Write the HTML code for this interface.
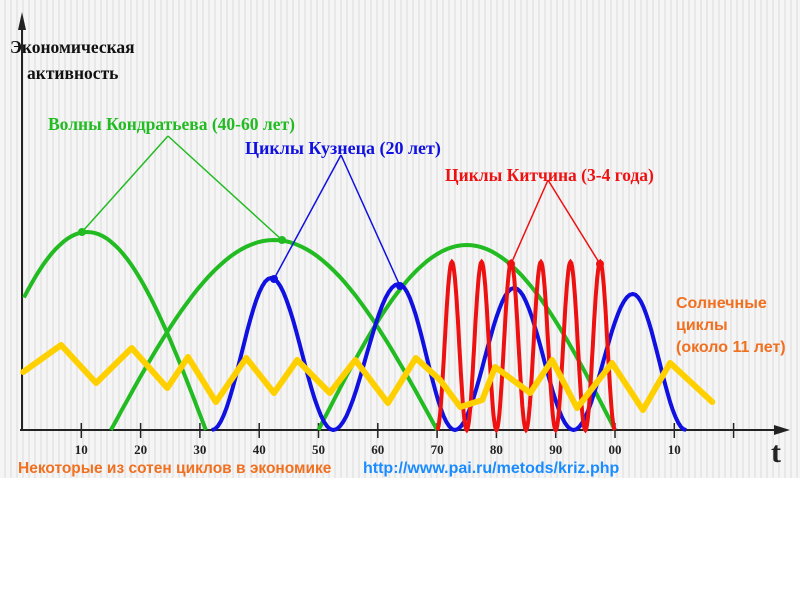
<!DOCTYPE html>
<html><head><meta charset="utf-8"><style>
html,body{margin:0;padding:0;background:#fff;}
#wrap{position:relative;width:800px;height:600px;overflow:hidden;}
#bg{position:absolute;left:0;top:0;width:800px;height:478px;background:repeating-linear-gradient(90deg,#f5f5f5 0px,#f5f5f5 4px,#e8e8e8 4px,#e8e8e8 6px);}
svg{position:absolute;left:0;top:0;}
.serif{font-family:"Liberation Serif",serif;font-weight:bold;}
.sans{font-family:"Liberation Sans",sans-serif;font-weight:bold;}
</style></head><body>
<div id="wrap">
<div id="bg"></div>
<svg id="chart" width="800" height="600">
<g id="axes"></g>
<g id="series"></g>
<g id="notes"></g>
</svg>
</div>
<script>
// ---- data ----
const tickLabels = ["10","20","30","40","50","60","70","80","90","00","10",""];
const tickYears = [10,20,30,40,50,60,70,80,90,100,110,120];
const kondratievStarts = [-9,15,50];
const kondratievEnds = [31,70,100];
const kondratievPeaks = [99,95,92.5];
const kuznetsT = [32,42,52.5,63.5,73,83,93,103,112];
const kuznetsV = [0,76,0,73,0,71,0,68,0];
const kitchinT = [70,72.5,75,77.5,80,82.5,85,87.5,90,92.5,95,97.5,100];
const kitchinV = [0,84,0,84,0,84,0,84,0,84,0,84,0];
const solarT = [0.2,6.6,12.5,18.5,24.5,28,32.7,37.8,42.5,46.4,51.9,56.2,61.7,66.4,70.5,73.9,77.6,79.8,85.7,89.4,93.6,99.5,104.7,109.3,116.4];
const solarV = [29,42.5,23.5,41,21,36.5,14,36,18.5,35,18.5,35,13.5,36,25,11.5,15,31.5,18.5,35,11,33.5,10,33.5,14];

// ---- axis functions ----
const X0=22, PX=5.93, Y0=430, PY=2;
const xs=t=>X0+t*PX;
const ys=v=>Y0-v*PY;
const NS="http://www.w3.org/2000/svg";
function mk(tag,attrs,parent){const e=document.createElementNS(NS,tag);for(const k in attrs)e.setAttribute(k,attrs[k]);parent.appendChild(e);return e;}
const axes=document.getElementById('axes'),series=document.getElementById('series'),notes=document.getElementById('notes');

let e=mk('line',{x1:22,y1:430,x2:22,y2:28,stroke:'#222','stroke-width':2},axes);

e=mk('polygon',{points:'22,12 18,30 26,30',fill:'#222'},axes);

e=mk('line',{x1:20,y1:430,x2:778,y2:430,stroke:'#222','stroke-width':2},axes);

e=mk('polygon',{points:'790,430 774,425 774,435',fill:'#222'},axes);

tickYears.forEach((t,i)=>{
  const x=xs(t);
  let l=mk('line',{x1:x,y1:423,x2:x,y2:438,stroke:'#222','stroke-width':1.5},axes);
  
  if(tickLabels[i]){let tx=mk('text',{x:x,y:454,'text-anchor':'middle','font-size':13,class:'serif',fill:'#222'},axes);tx.textContent=tickLabels[i];
  }
});

function pathFrom(pts){return pts.map((p,i)=>(i?'L':'M')+p[0].toFixed(1)+','+p[1].toFixed(1)).join(' ');}
function cosSeg(tArr,vArr){const pts=[];for(let i=0;i<tArr.length-1;i++){const a=tArr[i],b=tArr[i+1],va=vArr[i],vb=vArr[i+1];for(let k=0;k<=20;k++){const f=k/20,t=a+(b-a)*f,v=va+(vb-va)*(1-Math.cos(Math.PI*f))/2;pts.push([xs(t),ys(v)]);}}return pts;}

kondratievStarts.forEach((s,i)=>{
  const en=kondratievEnds[i],pk=kondratievPeaks[i],pts=[];
  for(let k=0;k<=60;k++){const t=s+(en-s)*k/60;if(t<0)continue;pts.push([xs(t),ys(pk*Math.sin(Math.PI*(t-s)/(en-s)))]);}
  let p=mk('path',{d:pathFrom(pts),fill:'none',stroke:'#22bb22','stroke-width':4},series);
  
});
e=mk('path',{d:pathFrom(cosSeg(kuznetsT,kuznetsV)),fill:'none',stroke:'#1010e0','stroke-width':4},series);

e=mk('path',{d:pathFrom(cosSeg(kitchinT,kitchinV)),fill:'none',stroke:'#ee1111','stroke-width':4},series);

e=mk('polyline',{points:solarT.map((t,i)=>xs(t).toFixed(1)+','+ys(solarV[i]).toFixed(1)).join(' '),fill:'none',stroke:'#ffd000','stroke-width':6,'stroke-linejoin':'round','stroke-linecap':'round'},series);


function label(txt,x,y,cls,size,color,name){const t=mk('text',{x:x,y:y,class:cls,'font-size':size,fill:color},notes);t.textContent=txt;return t;}
function pointer(ax,ay,pts,color,name){pts.forEach(p=>{let l=mk('line',{x1:ax,y1:ay,x2:p[0],y2:p[1],stroke:color,'stroke-width':1.5},notes);
 let c=mk('circle',{cx:p[0],cy:p[1],r:4,fill:color},notes);});}
label('Экономическая',10,53,'serif',17.5,'#111','y-axis-title');
label('активность',27,79,'serif',17.5,'#111','y-axis-title-2');
label('Волны Кондратьева (40-60 лет)',48,130,'serif',17.5,'#22bb22','kondratiev-label');
pointer(168,136,[[82,232],[282,240]],'#22bb22','kondratiev-pointer');
label('Циклы Кузнеца (20 лет)',245,154,'serif',18,'#1010e0','kuznets-label');
pointer(341,155,[[274,279],[400,286]],'#1010e0','kuznets-pointer');
label('Циклы Китчина (3-4 года)',445,181,'serif',17.5,'#ee1111','kitchin-label');
pointer(548,180,[[511,264],[600,264]],'#ee1111','kitchin-pointer');
label('Солнечные',676,308,'sans',16,'#f07020','solar-label-1');
label('циклы',676,330,'sans',16,'#f07020','solar-label-2');
label('(около 11 лет)',676,352,'sans',16,'#f07020','solar-label-3');
label('t',771,462,'serif',30,'#222','x-axis-title').setAttribute('font-weight','normal');
label('Некоторые из сотен циклов в экономике',18,473,'sans',15.5,'#f07020','caption');
let u=label('http://www.pai.ru/metods/kriz.php',363,473,'sans',16,'#1a8cff','source-link');

</script>
</body></html>
